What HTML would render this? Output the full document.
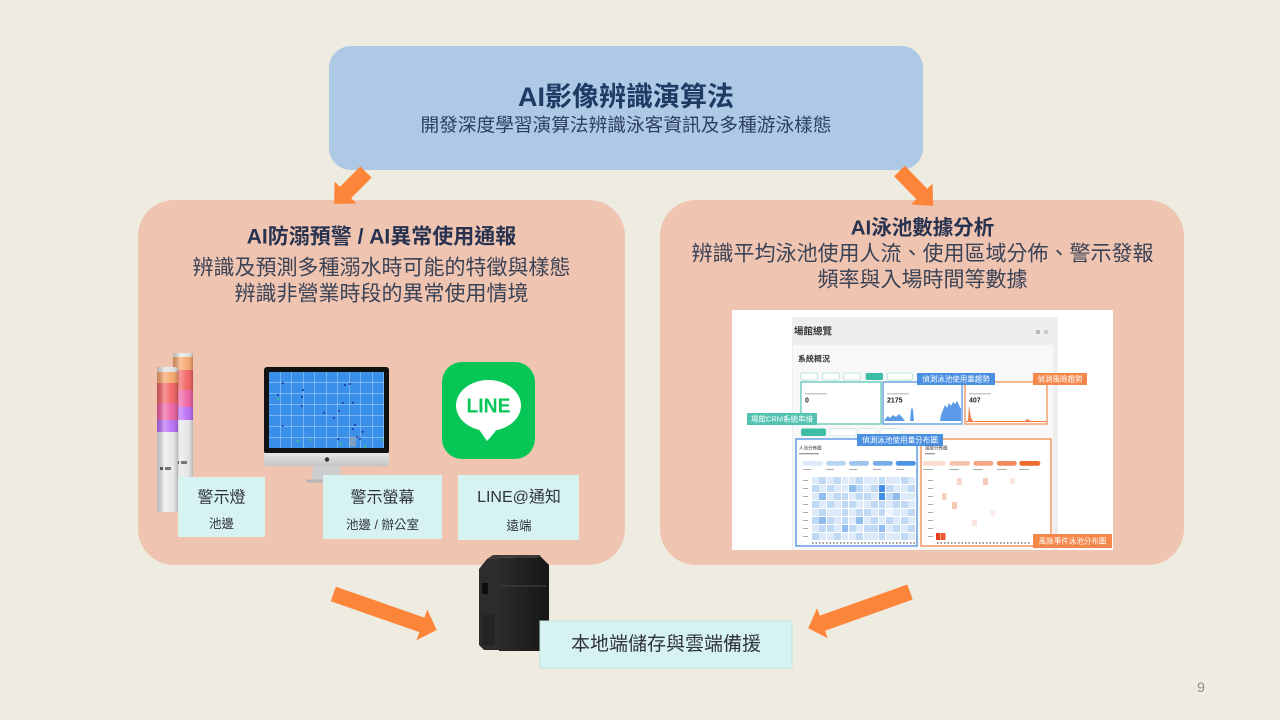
<!DOCTYPE html>
<html><head><meta charset="utf-8">
<style>
html,body{margin:0;padding:0;}
body{width:1280px;height:720px;background:#EEEBE1;position:relative;overflow:hidden;font-family:"Liberation Sans","Noto Sans CJK TC",sans-serif;}
svg{position:absolute;left:0;top:0;}
svg text{font-family:"Liberation Sans","Noto Sans CJK TC",sans-serif;}
.hm{position:absolute;left:812px;top:477px;width:103px;height:63px;display:grid;grid-template-columns:repeat(14,1fr);grid-template-rows:repeat(8,1fr);gap:0.7px;background:#fff;}
.hm i{display:block;}
.a{background:#F1F6FD}.b{background:#DCEAF9}.c{background:#C0DAF5}.d{background:#8FBDED}.e{background:#3F8EE2}
</style></head><body>
<svg width="1280" height="720" viewBox="0 0 1280 720">
<defs>
<linearGradient id="cyl" x1="0" x2="1" y1="0" y2="0">
<stop offset="0" stop-color="#000" stop-opacity="0.18"/>
<stop offset="0.35" stop-color="#fff" stop-opacity="0.35"/>
<stop offset="0.7" stop-color="#fff" stop-opacity="0.05"/>
<stop offset="1" stop-color="#000" stop-opacity="0.22"/>
</linearGradient>
<linearGradient id="silver" x1="0" x2="0" y1="0" y2="1">
<stop offset="0" stop-color="#E6E6E6"/><stop offset="1" stop-color="#C4C4C4"/>
</linearGradient>
<linearGradient id="srv" x1="0" x2="1" y1="0" y2="0">
<stop offset="0" stop-color="#2b2b2b"/><stop offset="1" stop-color="#161616"/>
</linearGradient>
<pattern id="grid" x="269" y="372" width="11.5" height="11" patternUnits="userSpaceOnUse">
<path d="M11.5 0 V11 M0 11 H11.5" stroke="#BFE0FF" stroke-width="0.9" fill="none"/>
</pattern>
</defs>

<!-- main boxes -->
<rect x="329" y="46" width="594" height="124" rx="22" fill="#ADC9E6"/>
<rect x="138" y="200" width="487" height="365" rx="36" fill="#EFC4B1"/>
<rect x="660" y="200" width="524" height="365" rx="36" fill="#EFC4B1"/>

<!-- arrows -->
<g fill="#FD853A">
<polygon transform="translate(366,172) rotate(135)" points="0,-8 29,-8 29,-15.5 45,0 29,15.5 29,8 0,8"/>
<polygon transform="translate(899.5,171) rotate(46)" points="0,-7.5 32,-7.5 32,-15 48.5,0 32,15 32,7.5 0,7.5"/>
<polygon transform="translate(333.3,594) rotate(19.2)" points="0,-7.7 93.8,-7.7 93.8,-16.3 109.5,0 93.8,16.3 93.8,7.7 0,7.7"/>
<polygon transform="translate(910,592) rotate(160.4)" points="0,-8 93,-8 93,-16 108,0 93,16 93,8 0,8"/>
</g>

<!-- top texts -->
<text x="626" y="97" font-size="27" font-weight="bold" fill="#1F3A63" text-anchor="middle" dominant-baseline="central">AI影像辨識演算法</text>
<text x="626" y="125" font-size="18.7" fill="#2D3E5E" text-anchor="middle" dominant-baseline="central">開發深度學習演算法辨識泳客資訊及多種游泳樣態</text>

<!-- left box texts -->
<text x="381.5" y="237" font-size="21" font-weight="bold" fill="#26324F" text-anchor="middle" dominant-baseline="central">AI防溺預警 / AI異常使用通報</text>
<text x="381.5" y="268" font-size="21" fill="#3A4256" text-anchor="middle" dominant-baseline="central">辨識及預測多種溺水時可能的特徵與樣態</text>
<text x="381.5" y="294" font-size="21" fill="#3A4256" text-anchor="middle" dominant-baseline="central">辨識非營業時段的異常使用情境</text>

<!-- right box texts -->
<text x="922.5" y="228" font-size="20.5" font-weight="bold" fill="#26324F" text-anchor="middle" dominant-baseline="central">AI泳池數據分析</text>
<text x="922.5" y="254" font-size="21" fill="#3A4256" text-anchor="middle" dominant-baseline="central">辨識平均泳池使用人流、使用區域分佈、警示發報</text>
<text x="922.5" y="280" font-size="21" fill="#3A4256" text-anchor="middle" dominant-baseline="central">頻率與入場時間等數據</text>

<!-- tower lights: back -->
<g>
<rect x="173" y="353" width="20" height="5" rx="2" fill="#E2E2E2"/>
<rect x="173" y="357" width="20" height="13" fill="#F7A56A"/>
<rect x="173" y="370" width="20" height="20" fill="#F2605F"/>
<rect x="173" y="390" width="20" height="17" fill="#EE5FA0"/>
<rect x="173" y="407" width="20" height="13" fill="#B86CF5"/>
<rect x="173" y="420" width="20" height="86" fill="#E6E6E6"/>
<rect x="173" y="353" width="20" height="153" fill="url(#cyl)"/>
<rect x="176" y="461" width="3" height="3" fill="#555"/><rect x="181" y="461" width="6" height="3" fill="#777"/>
</g>
<!-- tower lights: front -->
<g>
<rect x="157" y="367" width="21" height="5" rx="2" fill="#E2E2E2"/>
<rect x="157" y="372" width="21" height="11" fill="#F7A56A"/>
<rect x="157" y="383" width="21" height="20" fill="#F2605F"/>
<rect x="157" y="403" width="21" height="17" fill="#EE5FA0"/>
<rect x="157" y="420" width="21" height="12" fill="#B86CF5"/>
<rect x="157" y="432" width="21" height="80" fill="#E8E8E8"/>
<rect x="157" y="367" width="21" height="145" fill="url(#cyl)"/>
<rect x="160" y="467" width="3" height="3" fill="#555"/><rect x="165" y="467" width="6" height="3" fill="#777"/>
</g>

<!-- monitor -->
<rect x="264" y="367" width="125" height="87" rx="3" fill="#121212"/>
<rect x="269" y="372" width="115" height="76" fill="#3A8FE8"/>
<rect x="269" y="372" width="115" height="76" fill="url(#grid)"/>
<g fill="#1B2FA8">
<circle cx="282.7" cy="383.3" r="1"/><circle cx="303" cy="390" r="1"/><circle cx="345" cy="385" r="1"/><circle cx="350" cy="384" r="1"/>
<circle cx="278" cy="395" r="1"/><circle cx="302" cy="397" r="1"/><circle cx="342.7" cy="403" r="1"/><circle cx="352.7" cy="402.7" r="1"/>
<circle cx="301.7" cy="406" r="1"/><circle cx="339" cy="410.7" r="1"/><circle cx="324" cy="412.7" r="1"/><circle cx="334" cy="418" r="1"/>
<circle cx="282.7" cy="426" r="1"/><circle cx="355" cy="425" r="1"/><circle cx="352.7" cy="429" r="1"/><circle cx="362.7" cy="431.7" r="1"/>
<circle cx="338.3" cy="439" r="1"/><circle cx="357.3" cy="437" r="1"/><circle cx="360" cy="438.7" r="1"/>
</g>
<g fill="#3BD16B">
<circle cx="278" cy="399" r="1"/><circle cx="297.7" cy="440.7" r="1"/><circle cx="310.7" cy="440" r="1"/><circle cx="341" cy="444.3" r="1"/><circle cx="365" cy="446.7" r="1"/><circle cx="381.7" cy="440" r="1"/>
</g>
<rect x="349.3" y="436.7" width="6.7" height="10" fill="#8FA4B8" opacity="0.8"/>
<path d="M264 453 H389 V463 Q389 466 386 466 H267 Q264 466 264 463 Z" fill="url(#silver)"/>
<circle cx="327" cy="459.5" r="2.2" fill="#333"/>
<polygon points="313,466 340,466 341,480 312,480" fill="#CDCDCD"/>
<rect x="306" y="479.5" width="41" height="3" rx="1.5" fill="#B5B5B5"/>

<!-- LINE icon -->
<rect x="442" y="362" width="93" height="97" rx="20" fill="#06C755"/>
<ellipse cx="488.5" cy="405.5" rx="32.5" ry="25.5" fill="#fff"/>
<path d="M478 428 L487 441 Q492 436 497 429 Z" fill="#fff"/>
<text x="488.5" y="406.5" font-size="20" font-weight="bold" fill="#06C755" text-anchor="middle" dominant-baseline="central" textLength="44" lengthAdjust="spacingAndGlyphs">LINE</text>

<!-- labels in left box -->
<rect x="178" y="477" width="87" height="60" fill="#D6F2F1"/>
<rect x="323" y="475" width="119" height="64" fill="#D6F2F1"/>
<rect x="458" y="475" width="121" height="65" fill="#D6F2F1"/>
<g fill="#2F3340" text-anchor="middle" dominant-baseline="central">
<text x="221.5" y="498" font-size="16">警示燈</text>
<text x="221.5" y="524" font-size="12.5">池邊</text>
<text x="382.5" y="498" font-size="16">警示螢幕</text>
<text x="382.5" y="525" font-size="12.5">池邊 / 辦公室</text>
<text x="519" y="497.5" font-size="16">LINE@通知</text>
<text x="519" y="526" font-size="12.5">遠端</text>
</g>

<!-- server -->
<polygon points="479,569 487,559 499,558 499,650 484,650 479,645" fill="#2C2C2C"/>
<polygon points="499,558 541,557 549,565 549,648 546,651 499,651" fill="url(#srv)"/>
<polygon points="487,559 493,555 540,555 541,557 499,558" fill="#3a3a3a"/>
<rect x="482" y="583" width="6" height="11" fill="#0d0d0d"/>
<line x1="501" y1="586" x2="546" y2="586" stroke="#444" stroke-width="1"/>
<rect x="482" y="615" width="13" height="30" fill="#242424"/>

<!-- server label -->
<rect x="540" y="621" width="252" height="47" fill="#D6F2F1" stroke="#C0E6E5" stroke-width="1"/>
<text x="666" y="644.5" font-size="19" fill="#2F3340" text-anchor="middle" dominant-baseline="central">本地端儲存與雲端備援</text>

<!-- dashboard -->
<rect x="732" y="310" width="381" height="240" fill="#FFFFFF"/>
<rect x="792" y="317" width="266" height="233" fill="#EEEEEE"/>
<rect x="793" y="345" width="260" height="205" fill="#F7F8F7"/>
<text x="794" y="332" font-size="9.5" font-weight="bold" fill="#333" dominant-baseline="central">場館總覽</text>
<rect x="1036" y="330" width="4" height="4" fill="#bbb"/><rect x="1044" y="330" width="4" height="4" fill="#ccc"/>
<text x="798" y="359" font-size="8" font-weight="bold" fill="#333" dominant-baseline="central">系統概況</text>
<!-- buttons row 1 -->
<g fill="#fff" stroke="#A8DDD3" stroke-width="0.7">
<rect x="800.7" y="373" width="16.6" height="7" rx="1.5"/>
<rect x="822.7" y="373" width="16.6" height="7" rx="1.5"/>
<rect x="843.7" y="373" width="16.6" height="7" rx="1.5"/>
<rect x="887.3" y="373" width="25" height="7" rx="1.5"/>
</g>
<rect x="865.7" y="373" width="17.3" height="7" rx="1.5" fill="#3DBDA5"/>
<!-- cards -->
<rect x="801" y="382" width="80" height="42" fill="#fff" stroke="#52C3B0" stroke-width="1.2"/>
<rect x="883" y="382" width="79" height="42" fill="#fff" stroke="#4A8FE0" stroke-width="1.2"/>
<rect x="965" y="382" width="82" height="42" fill="#fff" stroke="#F08A4B" stroke-width="1.2"/>
<g fill="#C8C8C8"><rect x="805" y="393" width="22" height="1.5"/><rect x="887" y="393" width="22" height="1.5"/><rect x="969" y="393" width="22" height="1.5"/></g>
<g font-size="7" font-weight="bold" fill="#222" dominant-baseline="central">
<text x="805" y="401">0</text><text x="887" y="401">2175</text><text x="969" y="401">407</text>
</g>
<polygon fill="#5A9AE6" points="884,421 886,418 888,416 890,418 893,415 896,417 899,414 902,417 905,421 910,421 911,410 912,407 913,410 914,421 940,421 941,415 943,410 945,405 947,408 949,403 951,406 953,402 955,404 957,401 959,405 961,409 961,421"/>
<polygon fill="#F07A45" points="966,421 968,421 969,405 970,412 971,418 973,421 1025,421 1027,419 1029,420 1031,421 1046,421 1046,422 966,422"/>
<!-- labels -->
<rect x="917" y="373" width="78" height="12" fill="#4A8FE0"/>
<text x="956" y="379" font-size="7.5" fill="#fff" text-anchor="middle" dominant-baseline="central">偵測泳池使用量趨勢</text>
<rect x="1033" y="373" width="54" height="12" fill="#F5874A"/>
<text x="1060" y="379" font-size="7.5" fill="#fff" text-anchor="middle" dominant-baseline="central">偵測風險趨勢</text>
<rect x="747" y="413" width="70" height="12" fill="#52C3B0"/>
<text x="782" y="419" font-size="7.5" fill="#fff" text-anchor="middle" dominant-baseline="central">場館CRM系統串接</text>
<!-- buttons row 2 -->
<rect x="801" y="428.5" width="25" height="7.5" rx="2" fill="#3DBDA5"/>
<g fill="#fff" stroke="#C8E8E2" stroke-width="0.7">
<rect x="830" y="428.5" width="26" height="7.5" rx="2"/>
<rect x="859" y="428.5" width="17" height="7.5" rx="2"/>
<rect x="880" y="428.5" width="22" height="7.5" rx="2"/>
</g>
<!-- big cards -->
<rect x="796" y="439" width="121" height="107" fill="#fff" stroke="#4A8FE0" stroke-width="1.3"/>
<rect x="921" y="439" width="130" height="107" fill="#fff" stroke="#F08A4B" stroke-width="1.3"/>
<rect x="857" y="434" width="86" height="12" fill="#4A8FE0"/>
<text x="900" y="440" font-size="7.6" fill="#fff" text-anchor="middle" dominant-baseline="central">偵測泳池使用量分布圖</text>
<text x="799" y="448" font-size="4.5" fill="#333" dominant-baseline="central">人流分佈圖</text>
<rect x="799" y="453" width="20" height="1.3" fill="#999"/>
<text x="925" y="448" font-size="4.5" fill="#333" dominant-baseline="central">風險分佈圖</text>
<rect x="925" y="453" width="10" height="1.3" fill="#999"/>
<g>
<rect x="802.7" y="461" width="20" height="4.7" rx="2.3" fill="#DCE9F8"/>
<rect x="826" y="461" width="20" height="4.7" rx="2.3" fill="#B9D5F3"/>
<rect x="849" y="461" width="20" height="4.7" rx="2.3" fill="#9DC3EF"/>
<rect x="872.7" y="461" width="20" height="4.7" rx="2.3" fill="#79ADEA"/>
<rect x="895.7" y="461" width="20" height="4.7" rx="2.3" fill="#4D94E4"/>
<rect x="922.7" y="461" width="23" height="4.7" rx="2.3" fill="#FADDD0"/>
<rect x="949.3" y="461" width="21" height="4.7" rx="2.3" fill="#F8C4AC"/>
<rect x="973.3" y="461" width="20" height="4.7" rx="2.3" fill="#F4A585"/>
<rect x="996.7" y="461" width="20" height="4.7" rx="2.3" fill="#F18A5D"/>
<rect x="1019.3" y="461" width="21" height="4.7" rx="2.3" fill="#EE6A2D"/>
</g>
<g fill="#aaa">
<rect x="803" y="469" width="8" height="1"/><rect x="826" y="469" width="8" height="1"/><rect x="849" y="469" width="8" height="1"/><rect x="873" y="469" width="8" height="1"/><rect x="896" y="469" width="8" height="1"/>
<rect x="923" y="469" width="10" height="1"/><rect x="949" y="469" width="10" height="1"/><rect x="973" y="469" width="10" height="1"/><rect x="997" y="469" width="10" height="1"/><rect x="1019" y="469" width="10" height="1"/>
</g>
<g fill="#aaa">
<rect x="803" y="480" width="5" height="1"/><rect x="803" y="488" width="5" height="1"/><rect x="803" y="496" width="5" height="1"/><rect x="803" y="504" width="5" height="1"/><rect x="803" y="512" width="5" height="1"/><rect x="803" y="520" width="5" height="1"/><rect x="803" y="528" width="5" height="1"/><rect x="803" y="536" width="5" height="1"/>
<rect x="928" y="480" width="5" height="1"/><rect x="928" y="488" width="5" height="1"/><rect x="928" y="496" width="5" height="1"/><rect x="928" y="504" width="5" height="1"/><rect x="928" y="512" width="5" height="1"/><rect x="928" y="520" width="5" height="1"/><rect x="928" y="528" width="5" height="1"/><rect x="928" y="536" width="5" height="1"/>
</g>
<!-- orange heatmap cells -->
<g>
<rect x="956.7" y="478" width="5" height="7" fill="#F8D5CC"/>
<rect x="983" y="478" width="5" height="7" fill="#F6C9BB"/>
<rect x="1010" y="478" width="5" height="6" fill="#FBE6DF"/>
<rect x="942" y="493" width="4.5" height="7" fill="#F6CFC3"/>
<rect x="952" y="502" width="5" height="7" fill="#F5C7B7"/>
<rect x="972" y="520" width="5" height="6" fill="#FBE6DF"/>
<rect x="990" y="510" width="5" height="6" fill="#FCEDE8"/>
<rect x="936" y="533" width="4.5" height="7" fill="#E8401C"/>
<rect x="941" y="533" width="4.5" height="7" fill="#EE5A32"/>
</g>
<line x1="812" y1="543" x2="915" y2="543" stroke="#9a9a9a" stroke-width="2" stroke-dasharray="1.5,2"/>
<line x1="937" y1="543" x2="1030" y2="543" stroke="#9a9a9a" stroke-width="2" stroke-dasharray="1.5,2"/>
<rect x="1033" y="534" width="79" height="14" fill="#F5874A"/>
<text x="1072.5" y="541" font-size="7.5" fill="#fff" text-anchor="middle" dominant-baseline="central">風險事件泳池分布圖</text>

<!-- page number -->
<text x="1201" y="687" font-size="14" fill="#8C8C8C" text-anchor="middle" dominant-baseline="central">9</text>
</svg>

<div class="hm">
<i class="b"></i><i class="c"></i><i class="b"></i><i class="c"></i><i class="b"></i><i class="b"></i><i class="c"></i><i class="b"></i><i class="b"></i><i class="c"></i><i class="b"></i><i class="b"></i><i class="c"></i><i class="b"></i>
<i class="c"></i><i class="b"></i><i class="c"></i><i class="b"></i><i class="b"></i><i class="d"></i><i class="c"></i><i class="b"></i><i class="c"></i><i class="e"></i><i class="c"></i><i class="b"></i><i class="b"></i><i class="c"></i>
<i class="b"></i><i class="d"></i><i class="b"></i><i class="c"></i><i class="c"></i><i class="b"></i><i class="c"></i><i class="c"></i><i class="b"></i><i class="e"></i><i class="c"></i><i class="d"></i><i class="b"></i><i class="b"></i>
<i class="c"></i><i class="b"></i><i class="c"></i><i class="b"></i><i class="c"></i><i class="c"></i><i class="b"></i><i class="b"></i><i class="c"></i><i class="c"></i><i class="b"></i><i class="c"></i><i class="c"></i><i class="b"></i>
<i class="b"></i><i class="c"></i><i class="b"></i><i class="b"></i><i class="c"></i><i class="b"></i><i class="c"></i><i class="c"></i><i class="b"></i><i class="c"></i><i class="a"></i><i class="b"></i><i class="b"></i><i class="c"></i>
<i class="c"></i><i class="d"></i><i class="c"></i><i class="b"></i><i class="c"></i><i class="b"></i><i class="d"></i><i class="b"></i><i class="c"></i><i class="b"></i><i class="c"></i><i class="b"></i><i class="c"></i><i class="b"></i>
<i class="b"></i><i class="c"></i><i class="c"></i><i class="b"></i><i class="d"></i><i class="c"></i><i class="b"></i><i class="c"></i><i class="c"></i><i class="d"></i><i class="b"></i><i class="c"></i><i class="b"></i><i class="c"></i>
<i class="c"></i><i class="b"></i><i class="b"></i><i class="c"></i><i class="b"></i><i class="b"></i><i class="c"></i><i class="b"></i><i class="b"></i><i class="c"></i><i class="b"></i><i class="b"></i><i class="c"></i><i class="b"></i>
</div>
</body></html>
